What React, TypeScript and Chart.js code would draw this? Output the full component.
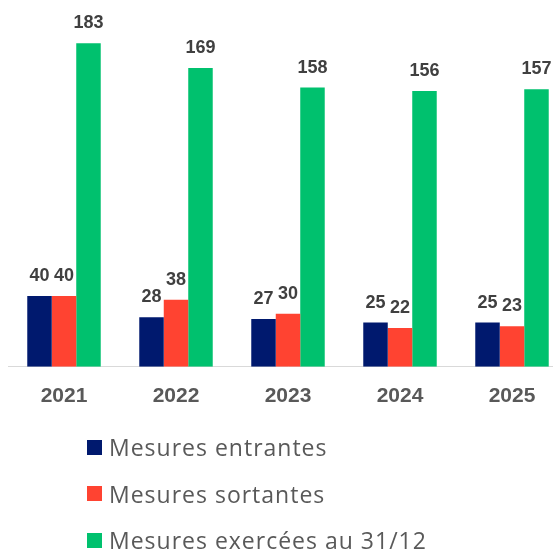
import React, { useEffect, useRef } from "react";
import { Chart, registerables } from "chart.js";

Chart.register(...registerables);

const categories = ["2021", "2022", "2023", "2024", "2025"];
const entrantes = [40, 28, 27, 25, 25];
const sortantes = [40, 38, 30, 22, 23];
const exercees = [183, 169, 158, 156, 157];
const seriesLabels = ["Mesures entrantes", "Mesures sortantes", "Mesures exercées au 31/12"];
const seriesColors = ["#00196E", "#FF4331", "#00C16E"];

const valueLabelPlugin = {
  id: "valueLabels",
  afterDatasetsDraw(chart: any) {
    const ctx = chart.ctx;
    ctx.save();
    ctx.font = "bold 18px 'Liberation Sans', Arial, sans-serif";
    ctx.fillStyle = "#404040";
    ctx.textAlign = "center";
    ctx.textBaseline = "alphabetic";
    chart.data.datasets.forEach((ds: any, i: number) => {
      const meta = chart.getDatasetMeta(i);
      meta.data.forEach((bar: any, j: number) => {
        ctx.fillText(String(ds.data[j]), bar.x, bar.y - 15);
      });
    });
    ctx.restore();
  },
};

export default function App() {
  const ref = useRef<HTMLCanvasElement>(null);
  useEffect(() => {
    document.documentElement.style.overflow = "hidden";
    const chart = new Chart(ref.current!, {
      type: "bar",
      data: {
        labels: categories,
        datasets: [entrantes, sortantes, exercees].map((d, i) => ({
          label: seriesLabels[i],
          data: d,
          backgroundColor: seriesColors[i],
          borderWidth: 0,
          categoryPercentage: 0.656,
          barPercentage: 1,
        })),
      },
      options: {
        responsive: false,
        animation: false,
        layout: { padding: { top: 0, left: 0, right: 0, bottom: 0 } },
        plugins: { legend: { display: false }, tooltip: { enabled: false } },
        scales: {
          x: {
            grid: { display: false, drawTicks: false },
            border: { display: true, color: "#D9D9D9", width: 1 },
            ticks: {
              padding: 17,
              color: "#595959",
              font: { family: "'Liberation Sans', Arial, sans-serif", size: 21, weight: "bold" },
            },
          },
          y: { display: false, min: 0, max: 203 },
        },
      },
      plugins: [valueLabelPlugin],
    });
    return () => chart.destroy();
  }, []);

  return (
    <div style={{ position: "fixed", left: 8, top: 8, width: 545, height: 542, overflow: "hidden" }}>
      <canvas ref={ref} width={560} height={418} style={{ display: "block" }} />
      <div
        style={{
          position: "absolute",
          left: 79,
          top: 427,
          display: "flex",
          flexDirection: "column",
          gap: 22.5,
        }}
      >
        {seriesLabels.map((l, i) => (
          <div key={l} style={{ display: "flex", alignItems: "center", height: 24 }}>
            <span style={{ width: 15, height: 15, background: seriesColors[i], marginRight: 7, display: "inline-block" }} />
            <span style={{ fontFamily: "'Open Sans', sans-serif", fontSize: 23, letterSpacing: "1px", color: "#595959", lineHeight: "24px", whiteSpace: "nowrap" }}>{l}</span>
          </div>
        ))}
      </div>
    </div>
  );
}
